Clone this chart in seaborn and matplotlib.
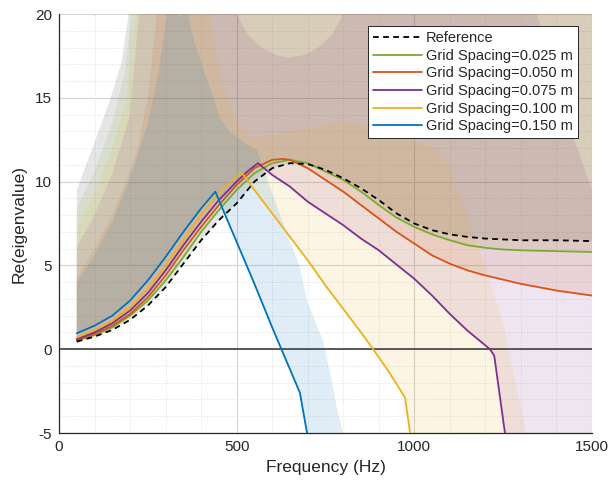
"""
Re(eigenvalue) vs frequency for several grid spacings, with shaded spread bands.
"""

import matplotlib
matplotlib.use("Agg")
import matplotlib.pyplot as plt
import seaborn as sns
import numpy as np

# ---- curves ----
ref_f = [50, 100, 150, 200, 250, 300, 350, 400, 450, 500, 550, 600, 650, 700, 750, 800,
         850, 900, 950, 1000, 1050, 1100, 1150, 1200, 1300, 1400, 1500]
ref_re = [0.45, 0.75, 1.15, 1.75, 2.6, 3.7, 5.1, 6.5, 7.7, 8.7, 10.0, 10.8, 11.1, 11.05, 10.7, 10.2,
          9.6, 8.9, 8.1, 7.5, 7.1, 6.85, 6.7, 6.6, 6.5, 6.5, 6.45]

g025_f = [50, 100, 150, 200, 250, 300, 350, 400, 450, 500, 550, 600, 650, 700, 750, 800,
          850, 900, 950, 1000, 1050, 1100, 1150, 1200, 1250, 1300, 1400, 1500]
g025_re = [0.5, 0.85, 1.3, 2.0, 2.9, 4.1, 5.5, 7.0, 8.3, 9.5, 10.5, 11.1, 11.3, 11.1, 10.6, 10.1,
           9.4, 8.6, 7.85, 7.3, 6.85, 6.5, 6.2, 6.05, 5.95, 5.9, 5.85, 5.8]

g050_f = [50, 100, 150, 200, 250, 300, 350, 400, 450, 500, 550, 600, 630, 650, 700, 750, 800,
          850, 900, 950, 1000, 1050, 1100, 1150, 1200, 1250, 1300, 1350, 1400, 1450, 1500]
g050_re = [0.55, 0.9, 1.4, 2.1, 3.1, 4.4, 5.9, 7.3, 8.6, 9.8, 10.8, 11.3, 11.35, 11.3, 10.8, 10.1, 9.4,
           8.6, 7.8, 7.0, 6.3, 5.6, 5.1, 4.7, 4.4, 4.15, 3.9, 3.7, 3.5, 3.35, 3.2]

g075_f = [50, 100, 150, 200, 250, 300, 350, 400, 450, 500, 530, 560, 600, 650, 700, 750, 800,
          850, 900, 950, 1000, 1050, 1100, 1150, 1213, 1225, 1255, 1300, 1500]
g075_re = [0.6, 1.0, 1.55, 2.3, 3.35, 4.7, 6.2, 7.6, 8.9, 10.0, 10.6, 11.1, 10.4, 9.7, 8.8, 8.1, 7.4,
           6.6, 5.9, 5.05, 4.2, 3.2, 2.1, 1.1, 0.0, -0.4, -5.0, -9.0, -12.0]

g100_f = [50, 100, 150, 200, 250, 300, 350, 400, 450, 500, 515, 550, 600, 650, 700, 750, 800,
          850, 884, 930, 974, 988, 1000]
g100_re = [0.7, 1.15, 1.7, 2.5, 3.6, 5.0, 6.5, 8.0, 9.3, 10.3, 10.5, 9.5, 8.1, 6.7, 5.3, 3.8, 2.4,
           1.0, 0.0, -1.4, -2.9, -5.0, -7.0]

g150_f = [50, 100, 150, 200, 250, 300, 350, 400, 440, 500, 550, 600, 650, 678, 698, 720]
g150_re = [0.95, 1.4, 2.0, 2.9, 4.1, 5.5, 7.0, 8.4, 9.4, 6.4, 3.9, 1.3, -1.2, -2.6, -5.0, -8.0]

# ---- upper edges of the shaded bands (lower edge = the curve itself) ----
ref_up_f = [50, 96, 144, 177, 196, 210, 1500]
ref_up = [9.5, 12.1, 14.9, 17.2, 20.0, 25.0, 25.0]

g025_up_f = [50, 100, 150, 185, 205, 220, 1500]
g025_up = [8.4, 10.6, 13.5, 16.5, 20.0, 25.0, 25.0]

g050_up_f = [50, 100, 150, 200, 220, 250, 275, 290, 1500]
g050_up = [4.3, 6.0, 8.0, 10.6, 11.9, 15.0, 20.0, 25.0, 25.0]

g075_up_f = [50, 100, 150, 200, 225, 240, 490, 501, 530, 570, 610, 645, 690, 730, 770, 800, 810,
             1330, 1345, 1400, 1450, 1500]
g075_up = [6.1, 8.0, 10.5, 14.0, 20.0, 25.0, 21.0, 20.0, 18.8, 18.0, 17.55, 17.4, 17.55, 18.0, 18.8,
           20.0, 21.0, 21.0, 20.0, 16.2, 12.5, 9.5]

g100_up_f = [50, 100, 150, 190, 215, 230, 400, 425, 450, 480, 510, 540, 600, 700, 800, 900, 1000,
             1060, 1100, 1150, 1200, 1250, 1315, 1330]
g100_up = [7.3, 9.3, 12.0, 15.0, 20.0, 25.0, 25.0, 20.0, 16.8, 14.6, 13.3, 12.6, 12.8, 13.2, 13.6,
           13.2, 12.4, 12.0, 10.8, 7.8, 5.0, 1.5, -5.0, -7.0]

g150_up_f = [50, 100, 150, 200, 250, 280, 304, 320, 340, 355, 363, 380, 405, 430, 453, 480, 509,
             540, 557, 600, 640, 678, 698, 720, 743, 763, 782, 800, 815]
g150_up = [4.0, 5.6, 7.6, 10.2, 13.5, 16.5, 20.0, 21.5, 19.7, 21.5, 20.0, 18.4, 16.8, 15.3, 13.8,
           13.0, 12.5, 12.1, 11.9, 9.3, 7.0, 4.9, 2.9, 1.7, 0.5, -1.4, -3.5, -5.0, -7.0]

labels = ["Grid Spacing=0.025 m", "Grid Spacing=0.050 m", "Grid Spacing=0.075 m",
          "Grid Spacing=0.100 m", "Grid Spacing=0.150 m"]
colors = ["#77AC30", "#D95319", "#7E2F8E", "#EDB120", "#0072BD"]

series = [
    (g025_f, g025_re, g025_up_f, g025_up),
    (g050_f, g050_re, g050_up_f, g050_up),
    (g075_f, g075_re, g075_up_f, g075_up),
    (g100_f, g100_re, g100_up_f, g100_up),
    (g150_f, g150_re, g150_up_f, g150_up),
]

sns.set_style("white")
plt.rcParams["font.family"] = ["Liberation Sans", "DejaVu Sans"]
plt.rcParams["axes.unicode_minus"] = False

fig = plt.figure(figsize=(6.1, 4.83), dpi=100)
ax = fig.add_axes([0.0967, 0.1035, 0.8738, 0.8675])


def band(ax, f, re, up_f, up, color, alpha):
    # polygon: along the curve, then back along the upper edge
    px = np.concatenate([f, up_f[::-1]])
    py = np.concatenate([re, up[::-1]])
    ax.fill(px, py, color=color, alpha=alpha, linewidth=0, zorder=1)


band(ax, ref_f, ref_re, ref_up_f, ref_up, "black", 0.10)
for (f, re, uf, u), c in zip(series, colors):
    band(ax, f, re, uf, u, c, 0.12)

ax.axhline(0, color="#4d4d4d", linewidth=1.3, zorder=2)

for (f, re, uf, u), c, lab in zip(series, colors, labels):
    sns.lineplot(x=f, y=re, ax=ax, color=c, linewidth=1.3, label=lab, zorder=3)
sns.lineplot(x=ref_f, y=ref_re, ax=ax, color="black", linewidth=1.3, label="Reference",
             zorder=4, dashes=False)
ax.lines[-1].set_dashes([3.2, 2.4])

ax.set_xlim(0, 1500)
ax.set_ylim(-5, 20)
ax.set_xticks([0, 500, 1000, 1500])
ax.set_xticks(np.arange(0, 1501, 100), minor=True)
ax.set_yticks([-5, 0, 5, 10, 15, 20])
ax.set_yticks(np.arange(-5, 21, 1), minor=True)

ax.set_axisbelow(True)
ax.grid(which="major", color="#d4d4d4", linewidth=0.8)
ax.grid(which="minor", color="#d6d6d6", linestyle=(0, (1, 2)), linewidth=0.6)

for s in ["top", "right"]:
    ax.spines[s].set_visible(False)
for s in ["left", "bottom"]:
    ax.spines[s].set_color("#262626")
    ax.spines[s].set_linewidth(0.9)

ax.tick_params(axis="both", which="major", direction="in", length=4, width=0.8,
               colors="#262626", labelsize=11, pad=5)
ax.tick_params(axis="x", which="minor", direction="in", length=3, width=0.7, colors="#262626")
ax.tick_params(axis="y", which="minor", length=0)

ax.set_xlabel("Frequency (Hz)", fontsize=12.5, color="#262626", labelpad=4)
ax.set_ylabel("Re(eigenvalue)", fontsize=12.5, color="#262626", labelpad=6)

handles, labs = ax.get_legend_handles_labels()
order = [labs.index("Reference")] + [labs.index(l) for l in labels]
leg = ax.legend([handles[i] for i in order], [labs[i] for i in order],
                loc="upper right", bbox_to_anchor=(0.9737, 0.9714), borderaxespad=0,
                fontsize=10.5, handlelength=3.3, handletextpad=0.3, labelspacing=0.25,
                borderpad=0.35, fancybox=False, framealpha=1, edgecolor="#262626")
leg.get_frame().set_linewidth(0.7)
leg.legend_handles[0].set_dashes([3.2, 2.4])

fig.savefig("out.png", dpi=100)
